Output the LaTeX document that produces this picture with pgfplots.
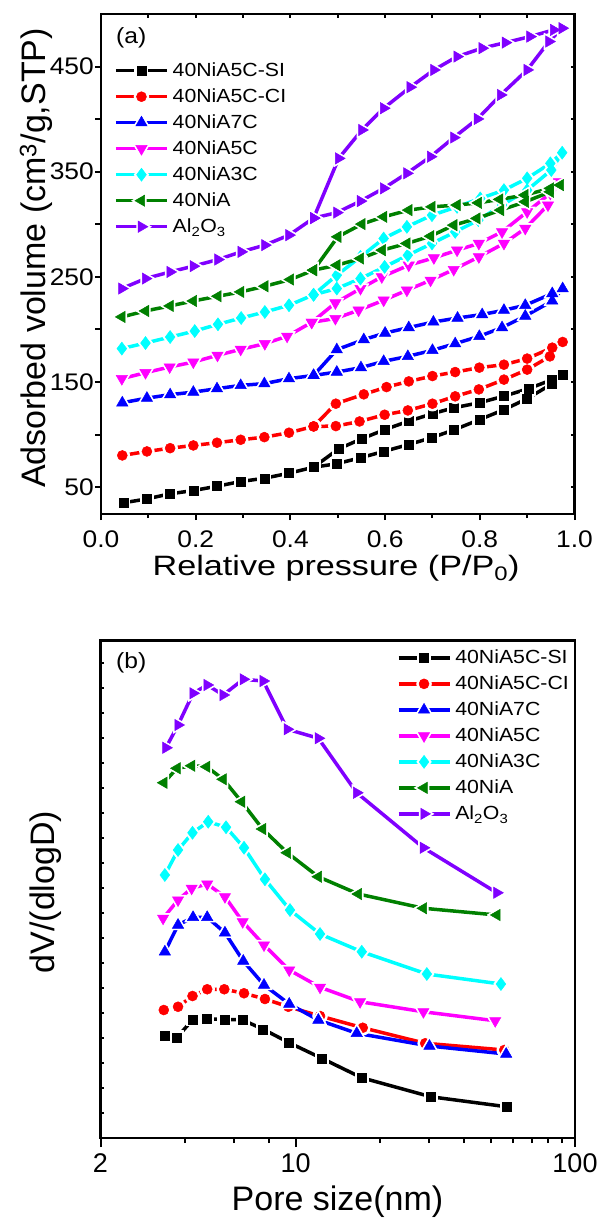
\documentclass[border=0pt]{standalone}
\usepackage{fontspec}
\setmainfont{Liberation Sans}
\newfontfamily\tickA{Liberation Sans}[FakeStretch=1.1]
\newfontfamily\labA{Liberation Sans}[FakeStretch=1.22]
\newfontfamily\legF{Liberation Sans}[FakeStretch=1.12]
\usepackage{pgfplots}
\pgfplotsset{compat=1.18}

\definecolor{cRed}{RGB}{255,0,0}
\definecolor{cBlue}{RGB}{0,0,255}
\definecolor{cMag}{RGB}{255,0,255}
\definecolor{cCyan}{RGB}{0,255,255}
\definecolor{cGreen}{RGB}{0,128,0}
\definecolor{cViolet}{RGB}{128,0,255}

\newcommand\tickfont{\tickA\fontsize{24}{28}\selectfont}
\newcommand\btickfont{\fontsize{27}{32}\selectfont}
\newcommand\labfont{\fontsize{34}{40}\selectfont}
\newcommand\labAfont{\labA\fontsize{28}{34}\selectfont}
\newcommand\legfont{\legF\fontsize{19}{23}\selectfont}
\newcommand\panfont{\legF\fontsize{22}{26}\selectfont}

\pgfplotsset{
  sSI/.style={color=black, mark=square*, mark size=4.5pt},
  sCI/.style={color=cRed, mark=*, mark size=5pt},
  s7C/.style={color=cBlue, mark=triangle*, mark size=6.5pt},
  s5C/.style={color=cMag, mark=triangle*, mark size=6.5pt, mark options={rotate=180}},
  s3C/.style={color=cCyan, mark=diamond*, mark size=6.5pt},
  sNiA/.style={color=cGreen, mark=triangle*, mark size=6.5pt, mark options={rotate=90}},
  sAl/.style={color=cViolet, mark=triangle*, mark size=6.5pt, mark options={rotate=-90}},
  halo/.style={/tikz/every mark/.append style={draw=white, fill=white, line width=1pt, scale=1.45}},
  gapleg/.style={legend image code/.code={%
      \draw[##1, line width=3.5pt] (0pt,0pt) -- (51pt,0pt);
      \draw[##1, /tikz/every mark/.append style={draw=white, fill=white, line width=1pt, scale=1.45}] plot coordinates {(25.5pt,0pt)};
      \draw[##1, line width=0.5pt] plot coordinates {(25.5pt,0pt)};
    }},
  frame/.style={scale only axis, axis line style={line width=2.5pt},
    tick style={line width=2pt, black}, major tick length=6pt, minor tick length=4pt,
    ticklabel style={font=\tickfont}, /pgf/number format/assume math mode=true},
  leg/.style={legend cell align=left, legend style={draw=none, fill=none, inner sep=0pt,
    row sep=4pt, font=\legfont, nodes={inner sep=0pt, text height=17pt, text depth=5pt},
    /tikz/every odd column/.append style={column sep=4pt}}},
}

% line with gaps round the symbols, then the symbols
\newcommand{\series}[3]{%
  \addplot[#1, forget plot, line width=3.5pt, line join=round, halo] coordinates {#2};
  \addplot[#1, only marks, line width=0.5pt, gapleg] coordinates {#2};
  \addlegendentry{#3}
}

\begin{document}
\begin{tikzpicture}[x=1pt,y=1pt]
\useasboundingbox (0,0) rectangle (600,-1219);

% ---------- (a) isotherms ----------
\begin{axis}[frame, leg, at={(101pt,-514pt)}, anchor=south west,
  width=473.5pt, height=500pt,
  xmin=0, xmax=1, ymin=24.5, ymax=500,
  tick align=outside, xtick pos=left, ytick pos=left,
  xtick={0,0.2,0.4,0.6,0.8,1}, xticklabels={0.0,0.2,0.4,0.6,0.8,1.0},
  minor xtick={0.1,0.3,0.5,0.7,0.9},
  ytick={50,100,...,450}, yticklabels={50,,150,,250,,350,,450},
  xticklabel style={inner sep=2pt, yshift=-9pt}, yticklabel style={inner sep=1pt},
  legend style={at={(axis description cs:0.0275,0.909)}, anchor=north west}]
\series{sSI}{(0.047,35.1)(0.097,38.9)(0.146,43.7)(0.195,46.8)(0.245,50.9)(0.295,55.4)(0.345,58.5)(0.397,63.3)(0.449,69.0)(0.498,72.3)(0.548,78.0)(0.597,84.0)(0.650,90.6)(0.698,97.0)(0.746,104.6)(0.799,114.2)(0.851,123.7)(0.900,134.2)(0.953,148.4)(0.975,157.3)(0.953,152.3)(0.903,143.7)(0.851,136.6)(0.799,130.3)(0.746,125.6)(0.700,119.9)(0.650,112.8)(0.600,104.9)(0.551,96.1)(0.502,86.5)(0.449,69.0)}{40NiA5C-SI}
\series{sCI}{(0.045,80.2)(0.097,84.0)(0.146,87.1)(0.195,89.7)(0.245,92.3)(0.295,95.1)(0.345,97.6)(0.397,101.8)(0.449,107.8)(0.496,108.1)(0.546,112.5)(0.599,118.9)(0.648,123.0)(0.700,129.4)(0.748,136.4)(0.798,143.0)(0.851,152.3)(0.900,161.8)(0.948,174.4)(0.975,188.1)(0.953,182.7)(0.900,172.3)(0.851,166.5)(0.799,163.7)(0.748,159.5)(0.700,155.7)(0.650,150.6)(0.603,145.2)(0.555,138.3)(0.496,129.4)(0.449,107.8)}{40NiA5C-CI}
\series{s7C}{(0.045,130.3)(0.097,134.7)(0.146,138.0)(0.195,140.4)(0.245,143.7)(0.295,146.8)(0.345,148.5)(0.397,153.2)(0.449,156.3)(0.498,159.5)(0.549,163.7)(0.597,169.7)(0.648,174.4)(0.700,180.2)(0.748,186.5)(0.799,193.5)(0.847,201.8)(0.896,212.8)(0.953,227.1)(0.975,238.9)(0.953,234.2)(0.896,223.0)(0.851,218.3)(0.805,214.2)(0.753,210.9)(0.702,207.1)(0.650,201.8)(0.600,196.6)(0.555,190.4)(0.498,180.8)(0.449,156.3)}{40NiA7C}
\series{s5C}{(0.044,153.2)(0.094,158.9)(0.145,164.3)(0.195,169.0)(0.246,175.4)(0.295,181.1)(0.346,186.5)(0.393,193.5)(0.445,206.8)(0.495,210.4)(0.544,218.3)(0.597,227.8)(0.646,237.3)(0.696,246.8)(0.745,257.0)(0.798,269.0)(0.851,281.8)(0.896,296.1)(0.944,318.3)(0.967,340.4)(0.949,329.4)(0.900,311.9)(0.847,292.8)(0.798,281.8)(0.752,275.4)(0.703,268.1)(0.650,261.1)(0.593,250.0)(0.548,238.9)(0.495,225.2)(0.445,206.8)}{40NiA5C}
\series{s3C}{(0.044,181.8)(0.094,187.1)(0.146,192.8)(0.198,198.5)(0.247,204.9)(0.296,210.9)(0.346,216.6)(0.397,223.0)(0.449,233.0)(0.498,238.9)(0.548,248.4)(0.599,259.5)(0.648,270.6)(0.699,281.8)(0.748,292.8)(0.797,304.0)(0.847,318.3)(0.900,332.5)(0.951,351.6)(0.974,368.1)(0.949,358.0)(0.900,343.7)(0.851,332.5)(0.801,324.6)(0.752,316.6)(0.699,308.7)(0.646,297.6)(0.597,286.5)(0.548,269.0)(0.498,251.6)(0.449,233.0)}{40NiA3C}
\series{sNiA}{(0.044,211.9)(0.094,217.6)(0.146,222.4)(0.195,227.1)(0.247,231.6)(0.295,235.7)(0.346,241.1)(0.400,247.5)(0.449,256.4)(0.498,261.1)(0.548,267.5)(0.594,275.4)(0.646,281.8)(0.696,288.7)(0.745,299.2)(0.794,305.6)(0.844,313.5)(0.896,321.4)(0.949,330.9)(0.970,337.3)(0.949,334.2)(0.895,327.8)(0.842,323.7)(0.797,320.4)(0.752,318.3)(0.699,316.6)(0.650,313.5)(0.597,307.1)(0.551,300.2)(0.500,288.1)(0.449,256.4)}{40NiA}
\series{sAl}{(0.044,238.9)(0.094,248.4)(0.146,254.7)(0.195,260.2)(0.247,266.5)(0.296,273.8)(0.346,280.2)(0.397,289.7)(0.449,305.9)(0.498,311.1)(0.548,322.1)(0.597,334.2)(0.646,348.5)(0.696,364.3)(0.745,382.5)(0.795,400.2)(0.844,423.0)(0.900,446.8)(0.946,473.8)(0.974,486.5)(0.956,484.9)(0.906,478.5)(0.854,472.8)(0.805,467.5)(0.752,459.5)(0.703,446.8)(0.653,430.4)(0.597,410.4)(0.551,389.7)(0.502,362.7)(0.449,305.9)}{Al\textsubscript{2}O\textsubscript{3}}
\end{axis}
% inner ticks on top and right
\begin{axis}[frame, at={(101pt,-514pt)}, anchor=south west,
  width=473.5pt, height=500pt, xmin=0, xmax=1, ymin=24.5, ymax=500,
  axis line style={draw=none}, tick align=inside, major tick length=4pt,
  xtick pos=right, ytick pos=right, xtick={0,0.1,...,1}, ytick={50,100,...,450},
  xticklabels={}, yticklabels={}]
\end{axis}

\node[font=\panfont, inner sep=0pt, anchor=base west] at (116,-43) {(a)};
\node[font=\labfont, inner sep=0pt, rotate=90] at (36,-258) {Adsorbed volume (cm\textsuperscript{3}/g,STP)};
\node[font=\labAfont, inner sep=0pt, anchor=base west] at (152.5,-575) {Relative pressure (P/P\textsubscript{0})};

% ---------- (b) pore size distribution ----------
\begin{axis}[frame, leg, at={(100.5pt,-1138pt)}, anchor=south west,
  width=474.5pt, height=497.3pt,
  xmode=log, xmin=2, xmax=100, ymin=0, ymax=19.892,
  tick align=outside, xtick pos=left, ytick=\empty,
  major tick length=9pt, minor tick length=5pt,
  xtick={2,10,100}, xticklabels={2,10,100},
  minor xtick={4,6,8,20,30,40,50,60,70,80,90},
  ticklabel style={font=\btickfont},
  xticklabel style={inner sep=2pt, yshift=-4pt},
  legend style={at={(axis description cs:0.624,0.988)}, anchor=north west}]
\series{sSI}{(3.40,4.09)(3.76,4.03)(4.29,4.75)(4.80,4.76)(5.55,4.75)(6.46,4.72)(7.65,4.35)(9.48,3.81)(12.39,3.19)(17.24,2.41)(30.47,1.65)(57.0,1.25)}{40NiA5C-SI}
\series{sCI}{(3.37,5.12)(3.79,5.25)(4.27,5.68)(4.82,5.95)(5.55,5.95)(6.53,5.79)(7.76,5.56)(9.41,5.25)(12.22,4.88)(17.38,4.41)(29.08,3.79)(55.8,3.52)}{40NiA5C-CI}
\series{s7C}{(3.40,7.45)(3.79,8.52)(4.29,8.83)(4.82,8.83)(5.58,8.21)(6.49,7.08)(7.70,6.12)(9.48,5.36)(12.05,4.72)(16.54,4.19)(30.12,3.68)(56.7,3.36)}{40NiA7C}
\series{s5C}{(3.35,8.79)(3.79,9.52)(4.24,9.99)(4.82,10.16)(5.58,9.65)(6.46,8.65)(7.70,7.72)(9.48,6.72)(12.22,6.03)(17.0,5.45)(28.66,5.05)(51.8,4.69)}{40NiA5C}
\series{s3C}{(3.40,10.52)(3.79,11.52)(4.27,12.21)(4.86,12.65)(5.63,12.43)(6.53,11.61)(7.76,10.35)(9.54,9.12)(12.22,8.16)(17.24,7.45)(29.48,6.56)(54.3,6.16)}{40NiA3C}
\series{sNiA}{(3.37,14.21)(3.76,14.79)(4.24,14.89)(4.80,14.85)(5.50,14.35)(6.40,13.45)(7.61,12.36)(9.33,11.41)(12.05,10.45)(16.76,9.76)(28.66,9.19)(52.5,8.92)}{40NiA}
\series{sAl}{(3.43,15.61)(3.79,16.52)(4.29,17.79)(4.82,18.12)(5.50,17.72)(6.49,18.35)(7.65,18.28)(9.33,16.35)(12.05,15.99)(16.54,13.81)(28.66,11.61)(52.5,9.81)}{Al\textsubscript{2}O\textsubscript{3}}
\end{axis}
% inner ticks on the left
\begin{axis}[frame, at={(100.5pt,-1138pt)}, anchor=south west,
  width=474.5pt, height=497.3pt, xmin=0, xmax=1, ymin=0, ymax=19.892,
  axis line style={draw=none}, tick align=inside, major tick length=4pt,
  xtick=\empty, ytick pos=left, ytick={1,...,19}, yticklabels={}]
\end{axis}

\node[font=\panfont, inner sep=0pt, anchor=base west] at (116,-668) {(b)};
\node[font=\labfont, inner sep=0pt, rotate=90] at (46,-892) {dV/(dlogD)};
\node[font=\labfont, inner sep=0pt, anchor=base] at (337.5,-1210) {Pore size(nm)};
\end{tikzpicture}
\end{document}
